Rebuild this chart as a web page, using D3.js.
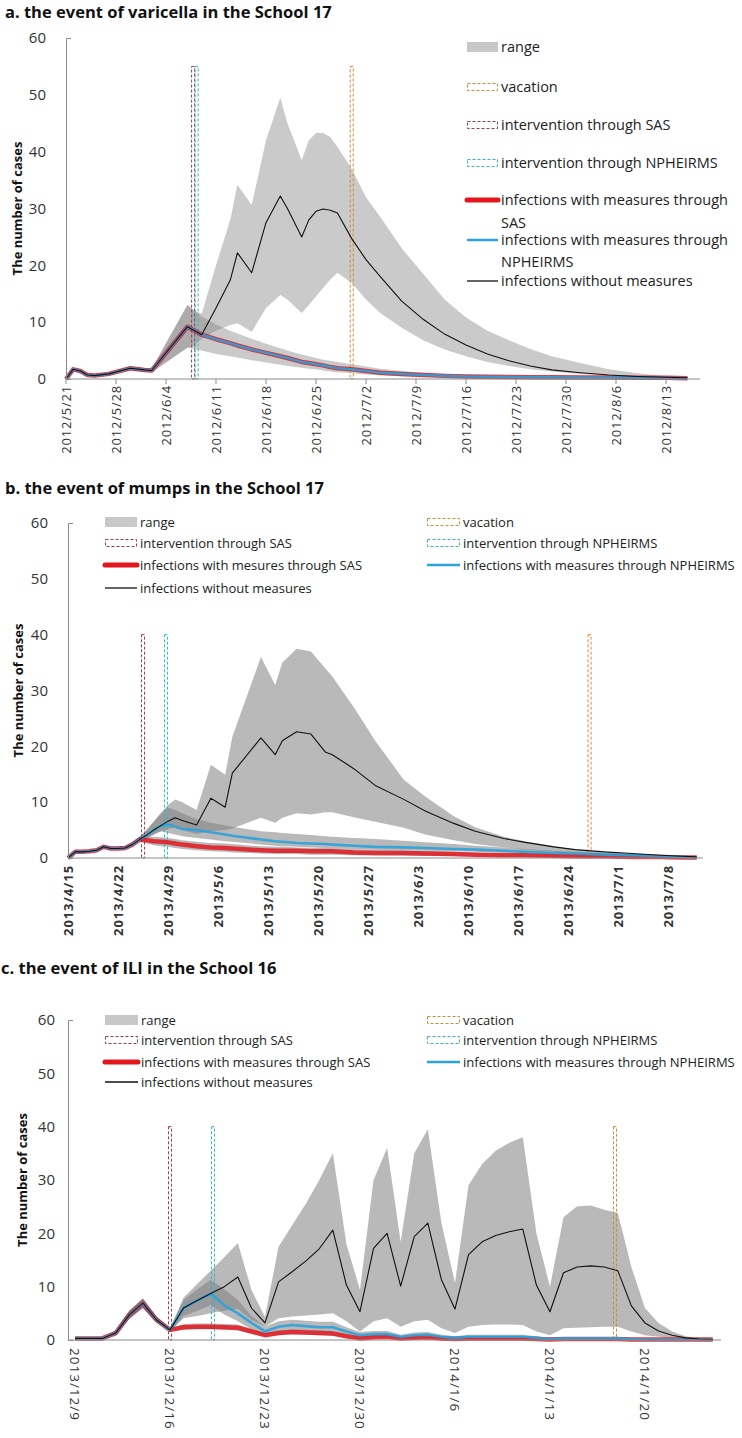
<!DOCTYPE html>
<html><head><meta charset="utf-8">
<script src="https://cdn.jsdelivr.net/npm/d3@7"></script>
<style>body{margin:0;background:#fff}svg{display:block}</style>
</head><body><svg id="c" width="742" height="1438"></svg>
<script>
// ---------------- Panel a: varicella, School 17 ----------------
const aDates = ["2012-05-21","2012-05-22","2012-05-23","2012-05-24","2012-05-25","2012-05-27","2012-05-30","2012-06-01","2012-06-02","2012-06-07","2012-06-08","2012-06-09","2012-06-11","2012-06-13","2012-06-14","2012-06-16","2012-06-18","2012-06-20","2012-06-21","2012-06-23","2012-06-24","2012-06-25","2012-06-26","2012-06-27","2012-06-28","2012-06-30","2012-07-02","2012-07-04","2012-07-07","2012-07-10","2012-07-13","2012-07-16","2012-07-19","2012-07-22","2012-07-25","2012-07-28","2012-08-01","2012-08-05","2012-08-09","2012-08-13","2012-08-16"];
const aNoMeasures = [0,1.7,1.4,0.7,0.6,0.9,1.9,1.6,1.5,9.2,8.5,7.8,12.5,17.4,22.2,18.7,27.5,32.2,30.0,25.0,28.0,29.5,29.9,29.7,29.2,24.7,21.0,18.0,13.7,10.5,7.9,6.0,4.4,3.2,2.3,1.6,1.1,0.7,0.45,0.3,0.2];
const aSAS = [0,1.7,1.4,0.7,0.6,0.9,1.9,1.6,1.5,9.2,8.5,7.8,7.0,6.3,5.9,5.2,4.6,4.0,3.7,3.0,2.8,2.6,2.4,2.1,1.9,1.7,1.4,1.1,0.9,0.7,0.55,0.45,0.4,0.35,0.3,0.3,0.25,0.25,0.2,0.2,0.15];
const aNPHE = [0,1.7,1.4,0.7,0.6,0.9,1.9,1.6,1.5,9.2,8.5,7.8,7.0,6.3,5.9,5.2,4.6,4.0,3.7,3.0,2.8,2.6,2.4,2.1,1.9,1.7,1.4,1.1,0.9,0.7,0.55,0.45,0.4,0.35,0.3,0.3,0.25,0.25,0.2,0.2,0.15];
const aNoLo = [0,1.5,1.2,0.5,0.4,0.7,1.6,1.3,1.2,5.5,6.0,7.0,8.5,9.5,9.8,8.3,12.5,14.8,14.0,11.6,13.0,14.5,16.0,17.5,18.7,16.9,14.0,11.6,9.0,6.8,5.2,4.0,3.0,2.3,1.7,1.3,0.9,0.6,0.4,0.25,0.1];
const aNoHi = [0,1.9,1.6,0.9,0.8,1.1,2.2,1.9,1.8,13.0,12.0,11.5,20.0,28.0,34.2,30.6,42.0,49.5,45.0,38.5,42.0,43.3,43.3,42.6,40.8,37.0,32.0,28.5,23.0,18.5,14.0,10.8,8.5,6.8,5.3,4.0,2.8,1.7,1.0,0.5,0.3];
const aMeasLo = [0,1.5,1.2,0.5,0.4,0.7,1.6,1.3,1.2,5.5,5.3,5.0,4.4,4.0,3.8,3.3,2.9,2.5,2.3,2.0,1.8,1.7,1.5,1.3,1.2,1.0,0.8,0.65,0.5,0.4,0.3,0.25,0.2,0.15,0.1,0.1,0.1,0.05,0.05,0,0];
const aMeasHi = [0,1.9,1.6,0.9,0.8,1.1,2.2,1.9,1.8,13.0,12.0,11.0,9.6,8.5,8.0,7.1,6.2,5.4,5.0,4.3,4.0,3.7,3.4,3.2,3.0,2.6,2.2,1.8,1.4,1.1,0.9,0.7,0.6,0.5,0.45,0.4,0.35,0.3,0.3,0.25,0.2];
const aTickDates = ["2012-05-21","2012-05-28","2012-06-04","2012-06-11","2012-06-18","2012-06-25","2012-07-02","2012-07-09","2012-07-16","2012-07-23","2012-07-30","2012-08-06","2012-08-13"];
const aTickLabels = ["2012/5/21","2012/5/28","2012/6/4","2012/6/11","2012/6/18","2012/6/25","2012/7/2","2012/7/9","2012/7/16","2012/7/23","2012/7/30","2012/8/6","2012/8/13"];
const aMarkerKeys = ["SAS","NPHEIRMS","vacation"];
const aMarkerDates = ["2012-06-07T19:00","2012-06-08T07:00","2012-06-30T00:00"];
const aMarkerTops = [55,55,55];

// ---------------- Panel b: mumps, School 17 ----------------
const bDates = ["2013-04-15","2013-04-16","2013-04-17","2013-04-18","2013-04-19","2013-04-20","2013-04-21","2013-04-22","2013-04-23","2013-04-24","2013-04-25","2013-04-26","2013-04-27","2013-04-28","2013-04-29","2013-04-30","2013-05-01","2013-05-03","2013-05-05","2013-05-07","2013-05-08","2013-05-12","2013-05-14","2013-05-15","2013-05-17","2013-05-19","2013-05-21","2013-05-22","2013-05-25","2013-05-28","2013-06-01","2013-06-04","2013-06-08","2013-06-11","2013-06-15","2013-06-18","2013-06-22","2013-06-25","2013-06-29","2013-07-03","2013-07-07","2013-07-10","2013-07-12"];
const bNoMeasures = [0,1.1,1.1,1.2,1.4,2.0,1.7,1.7,1.8,2.4,3.3,4.1,5.0,5.8,6.6,7.2,6.7,5.9,10.7,9.1,15.2,21.5,18.5,21.0,22.6,22.2,19.0,18.5,16.0,13.0,10.5,8.4,6.2,4.8,3.5,2.8,2.0,1.5,1.1,0.8,0.5,0.3,0.2];
const bSAS = [0,1.1,1.1,1.2,1.4,2.0,1.7,1.7,1.8,2.4,3.3,3.2,3.0,2.9,2.8,2.6,2.4,2.1,1.9,1.8,1.7,1.4,1.3,1.3,1.3,1.2,1.2,1.2,1.0,0.9,0.9,0.8,0.7,0.6,0.5,0.5,0.4,0.3,0.3,0.2,0.2,0.1,0.1];
const bNPHE = [0,1.1,1.1,1.2,1.4,2.0,1.7,1.7,1.8,2.4,3.3,4.1,5.0,5.8,6.0,5.6,5.2,5.0,4.6,4.2,4.0,3.3,3.0,2.9,2.7,2.6,2.5,2.4,2.2,2.0,1.9,1.8,1.6,1.5,1.3,1.1,0.9,0.8,0.6,0.5,0.3,0.2,0.1];
const bNoLo = [0,0.9,0.9,1.0,1.2,1.8,1.5,1.5,1.6,2.1,3.0,3.5,4.2,4.8,5.2,5.5,5.0,4.3,4.8,5.0,5.3,7.2,6.3,7.2,8.0,7.8,8.2,8.2,7.3,6.5,5.4,4.2,3.2,2.5,1.9,1.5,1.1,0.8,0.6,0.4,0.3,0.2,0.1];
const bNoHi = [0,1.3,1.3,1.4,1.6,2.3,2.0,2.0,2.1,2.8,3.8,5.0,6.5,8.0,9.5,10.5,10.0,8.6,16.7,14.9,21.7,36.0,31.0,35.0,37.5,37.0,34.0,32.5,27.0,21.0,14.0,11.0,7.5,5.5,3.8,3.0,2.1,1.5,1.0,0.7,0.5,0.3,0.2];
const bSASLo = [0,0.9,0.9,1.0,1.2,1.8,1.5,1.5,1.6,2.1,3.0,2.6,2.3,2.1,2.0,1.8,1.6,1.4,1.2,1.1,1.0,0.8,0.7,0.7,0.7,0.6,0.6,0.6,0.5,0.45,0.4,0.35,0.3,0.25,0.2,0.2,0.15,0.1,0.1,0.05,0.05,0,0];
const bSASHi = [0,1.3,1.3,1.4,1.6,2.3,2.0,2.0,2.1,2.8,3.8,3.9,3.8,3.7,3.6,3.4,3.2,2.9,2.7,2.6,2.5,2.1,2.0,2.0,1.9,1.8,1.8,1.8,1.6,1.5,1.4,1.3,1.1,1.0,0.8,0.8,0.7,0.6,0.5,0.4,0.3,0.2,0.2];
const bNPHELo = [0,0.9,0.9,1.0,1.2,1.8,1.5,1.5,1.6,2.1,3.0,3.5,4.2,4.8,4.5,4.2,3.9,3.6,3.3,3.0,2.9,2.4,2.2,2.1,2.0,1.9,1.8,1.8,1.6,1.5,1.4,1.3,1.2,1.1,0.9,0.8,0.6,0.5,0.4,0.3,0.2,0.1,0.1];
const bNPHEHi = [0,1.3,1.3,1.4,1.6,2.3,2.0,2.0,2.1,2.8,3.8,5.0,6.5,8.0,9.0,8.6,8.0,7.0,6.3,5.8,5.6,4.8,4.6,4.5,4.3,4.1,3.9,3.8,3.6,3.4,3.1,2.8,2.5,2.2,1.9,1.6,1.3,1.1,0.9,0.7,0.5,0.3,0.2];
const bTickDates = ["2013-04-15","2013-04-22","2013-04-29","2013-05-06","2013-05-13","2013-05-20","2013-05-27","2013-06-03","2013-06-10","2013-06-17","2013-06-24","2013-07-01","2013-07-08"];
const bTickLabels = ["2013/4/15","2013/4/22","2013/4/29","2013/5/6","2013/5/13","2013/5/20","2013/5/27","2013/6/3","2013/6/10","2013/6/17","2013/6/24","2013/7/1","2013/7/8"];
const bMarkerKeys = ["SAS","NPHEIRMS","vacation"];
const bMarkerDates = ["2013-04-25T12:00","2013-04-28T17:00","2013-06-27T00:00"];
const bMarkerTops = [40,40,40];

// ---------------- Panel c: ILI, School 16 ----------------
const cDates = ["2013-12-09","2013-12-10","2013-12-11","2013-12-12","2013-12-13","2013-12-14","2013-12-15","2013-12-16","2013-12-17","2013-12-18","2013-12-19","2013-12-20","2013-12-21","2013-12-22","2013-12-23","2013-12-24","2013-12-25","2013-12-26","2013-12-27","2013-12-28","2013-12-29","2013-12-30","2013-12-31","2014-01-01","2014-01-02","2014-01-03","2014-01-04","2014-01-05","2014-01-06","2014-01-07","2014-01-08","2014-01-09","2014-01-10","2014-01-11","2014-01-12","2014-01-13","2014-01-14","2014-01-15","2014-01-16","2014-01-17","2014-01-18","2014-01-19","2014-01-20","2014-01-21","2014-01-22","2014-01-23","2014-01-24","2014-01-25"];
const cNoMeasures = [0.3,0.3,0.3,1.3,4.7,6.9,3.8,1.9,6.0,7.4,8.7,10.0,11.8,6.0,3.2,10.9,12.8,14.8,17.1,20.6,10.3,5.3,17.2,20.0,10.1,19.4,21.9,11.3,5.8,16.0,18.4,19.6,20.3,20.8,10.3,5.3,12.6,13.7,13.9,13.7,13.0,6.4,3.2,1.7,0.9,0.4,0.2,0.1];
const cSAS = [0.3,0.3,0.3,1.3,4.7,6.9,3.8,1.9,2.4,2.5,2.5,2.4,2.3,1.6,0.9,1.3,1.5,1.4,1.3,1.2,0.7,0.3,0.5,0.6,0.3,0.4,0.5,0.3,0.2,0.3,0.3,0.3,0.3,0.3,0.2,0.1,0.2,0.2,0.2,0.2,0.2,0.1,0.1,0.1,0.1,0.1,0.1,0.1];
const cNPHE = [0.3,0.3,0.3,1.3,4.7,6.9,3.8,1.9,6.0,7.4,8.7,6.5,5.0,3.2,1.6,2.5,2.8,2.6,2.4,2.4,1.6,0.9,1.1,1.1,0.6,0.9,1.0,0.6,0.4,0.6,0.6,0.6,0.6,0.6,0.4,0.2,0.3,0.3,0.3,0.3,0.3,0.2,0.1,0.1,0.1,0.1,0.1,0.1];
const cNoLo = [0.2,0.2,0.2,1.0,4.0,6.0,3.3,1.6,4.1,4.5,5.0,5.5,5.8,3.8,2.5,4.1,4.4,4.6,4.8,5.0,3.5,1.6,3.5,4.1,2.5,3.5,3.8,2.2,1.3,2.5,2.8,2.9,2.9,2.8,1.6,0.9,2.2,2.3,2.4,2.5,2.5,1.6,0.9,0.6,0.3,0.1,0,0];
const cNoHi = [0.4,0.4,0.4,1.8,5.5,7.8,4.4,2.2,7.9,10.5,13.0,15.5,18.2,9.4,4.3,17.5,21.5,25.5,30.0,35.0,18.0,9.4,30.0,36.0,18.4,35.0,39.5,22.0,10.7,29.0,33.0,35.5,37.0,38.0,20.0,10.0,23.0,25.1,25.2,24.4,23.8,13.7,6.0,3.2,1.6,0.7,0.3,0.1];
const cSASLo = [0.2,0.2,0.2,1.0,4.0,6.0,3.3,1.6,1.9,2.0,2.0,1.9,1.8,1.2,0.6,0.9,1.1,1.0,0.9,0.8,0.4,0.1,0.3,0.4,0.1,0.2,0.3,0.1,0.1,0.1,0.1,0.1,0.1,0.1,0.1,0,0.1,0.1,0.1,0.1,0.1,0,0,0,0,0,0,0];
const cSASHi = [0.4,0.4,0.4,1.8,5.5,7.8,4.4,2.2,3.0,3.1,3.1,3.0,2.9,2.1,1.3,1.8,2.0,1.9,1.8,1.7,1.1,0.6,0.8,0.9,0.6,0.7,0.8,0.6,0.5,0.6,0.6,0.6,0.6,0.6,0.5,0.3,0.4,0.4,0.4,0.4,0.4,0.3,0.3,0.3,0.3,0.3,0.3,0.3];
const cNPHELo = [0.2,0.2,0.2,1.0,4.0,6.0,3.3,1.6,4.5,5.5,6.5,4.8,3.5,2.0,1.0,1.6,1.9,1.8,1.6,1.6,1.0,0.5,0.6,0.6,0.3,0.5,0.6,0.3,0.2,0.3,0.3,0.3,0.3,0.3,0.2,0.1,0.1,0.1,0.1,0.1,0.1,0.1,0,0,0,0,0,0];
const cNPHEHi = [0.4,0.4,0.4,1.8,5.5,7.8,4.4,2.2,7.5,9.5,11.3,9.5,7.5,4.5,2.5,3.5,3.8,3.6,3.4,3.4,2.4,1.5,1.7,1.7,1.0,1.4,1.5,1.0,0.7,1.0,1.0,1.0,1.0,1.0,0.7,0.4,0.5,0.5,0.5,0.5,0.5,0.4,0.2,0.2,0.2,0.2,0.2,0.2];
const cTickDates = ["2013-12-09","2013-12-16","2013-12-23","2013-12-30","2014-01-06","2014-01-13","2014-01-20"];
const cTickLabels = ["2013/12/9","2013/12/16","2013/12/23","2013/12/30","2014/1/6","2014/1/13","2014/1/20"];
const cMarkerKeys = ["SAS","NPHEIRMS","vacation"];
const cMarkerDates = ["2013-12-16T00:00","2013-12-19T04:00","2014-01-17T19:00"];
const cMarkerTops = [40,40,40];

const yTicks = [0,10,20,30,40,50,60];

// ---------------- drawing ----------------
const parse = s => d3.utcParse(s.length > 10 ? "%Y-%m-%dT%H:%M" : "%Y-%m-%d")(s);
const COL = {
  SAS: "#a33a4c", NPHEIRMS: "#35b3c8", vacation: "#d08b35",
  red: "#e3161d", blue: "#2aa2da", black: "#111111", band: "#808080", axis: "#8a8a8a", text: "#333333"
};
const FONT = "'Open Sans', 'DejaVu Sans', sans-serif";
const svg = d3.select("#c");

function panel(o) {
  const g = svg.append("g");
  const dates = o.dates.map(parse);
  const x = d3.scaleUtc().domain([dates[0], parse(o.endDate)]).range([o.x0, o.x1]);
  const y = d3.scaleLinear().domain([0, 60]).range([o.yBottom, o.yTop]);

  // range bands
  o.bands.forEach(b => {
    const area = d3.area().x((d, i) => x(dates[i])).y0((d, i) => y(b.lo[i])).y1((d, i) => y(b.hi[i]));
    g.append("path").datum(b.lo).attr("d", area)
      .attr("fill", COL.band).attr("fill-opacity", o.bandOpacity);
  });

  // vertical dashed markers (thin bars with dashed outline)
  o.markerKeys.forEach((k, i) => {
    const xm = x(parse(o.markerDates[i]));
    g.append("rect").attr("x", xm - 1.5).attr("width", 3)
      .attr("y", y(o.markerTops[i])).attr("height", y(0) - y(o.markerTops[i]))
      .attr("fill", "none").attr("stroke", COL[k]).attr("stroke-width", 1)
      .attr("stroke-dasharray", "3,2");
  });

  // lines
  const line = vals => d3.line().x((d, i) => x(dates[i])).y(d => y(d))(vals);
  g.append("path").attr("d", line(o.sas)).attr("fill", "none")
    .attr("stroke", COL.red).attr("stroke-width", 4.5).attr("stroke-opacity", 0.85)
    .attr("stroke-linejoin", "round");
  g.append("path").attr("d", line(o.nphe)).attr("fill", "none")
    .attr("stroke", COL.blue).attr("stroke-width", 2.6).attr("stroke-opacity", 0.9)
    .attr("stroke-linejoin", "round");
  g.append("path").attr("d", line(o.none)).attr("fill", "none")
    .attr("stroke", COL.black).attr("stroke-width", 1.1).attr("stroke-linejoin", "round");

  // y axis
  const yAxis = d3.axisLeft(y).tickValues(yTicks).tickSizeInner(0).tickSizeOuter(-5).tickPadding(o.yPad);
  const ya = g.append("g").attr("transform", `translate(${o.axisX},0)`).call(yAxis);
  ya.select(".domain").attr("stroke", COL.axis);
  ya.selectAll("text").attr("font-family", FONT).attr("font-size", 15).attr("fill", COL.text);

  // x axis baseline
  g.append("line").attr("x1", o.axisX).attr("x2", o.axisEnd).attr("y1", y(0)).attr("y2", y(0))
    .attr("stroke", COL.axis);
  o.tickDates.forEach((t, i) => {
    const xt = x(parse(t));
    if (o.tickMarks) {
      g.append("line").attr("x1", xt).attr("x2", xt).attr("y1", y(0)).attr("y2", y(0) + 5)
        .attr("stroke", COL.axis);
    }
    const lab = g.append("text").text(o.tickLabels[i])
      .attr("font-family", FONT).attr("font-size", o.tickFont).attr("fill", COL.text)
      .attr("font-weight", o.tickBold ? "bold" : "normal")
      .attr("letter-spacing", o.tickSpacing || 0)
      .attr("dy", "0.35em");
    if (o.tickDown) {
      lab.attr("transform", `translate(${xt},${y(0) + o.tickGap}) rotate(90)`).attr("text-anchor", "start");
    } else {
      lab.attr("transform", `translate(${xt},${y(0) + o.tickGap}) rotate(-90)`).attr("text-anchor", "end");
    }
  });

  // y title
  g.append("text").text("The number of cases")
    .attr("transform", `translate(${o.yTitleX},${(y(0) + y(60)) / 2}) rotate(-90)`)
    .attr("text-anchor", "middle").attr("dy", "0.35em")
    .attr("font-family", FONT).attr("font-weight", "bold").attr("font-size", 13).attr("fill", "#111");

  // panel title
  g.append("text").text(o.title).attr("x", o.titleX).attr("y", o.titleY)
    .attr("font-family", FONT).attr("font-weight", "bold")
    .attr("font-size", 16.5).attr("fill", "#111");

  // legend
  o.legend.forEach(it => {
    const lg = g.append("g");
    const x0 = it.x, x1 = it.x + it.w, yc = it.y, lh = it.lh || 20;
    if (it.type === "band") {
      lg.append("rect").attr("x", x0).attr("y", yc - 5).attr("width", it.w).attr("height", 10)
        .attr("fill", "#c8c8c8");
    } else if (it.type === "dash") {
      lg.append("rect").attr("x", x0 + 0.5).attr("y", yc - 3.5).attr("width", it.w - 1).attr("height", 7)
        .attr("fill", "none").attr("stroke", COL[it.key]).attr("stroke-width", 1).attr("stroke-dasharray", "3,2");
    } else {
      lg.append("line").attr("x1", x0).attr("x2", x1).attr("y1", yc).attr("y2", yc)
        .attr("stroke", COL[it.key]).attr("stroke-width", it.sw).attr("stroke-linecap", it.key === "red" ? "round" : "butt");
    }
    it.text.forEach((t, j) => {
      lg.append("text").text(t).attr("x", x1 + 3).attr("y", yc + j * lh).attr("dy", "0.35em")
        .attr("font-family", FONT).attr("font-size", o.legendFont).attr("fill", "#222");
    });
  });
}

panel({
  title: "a. the event of varicella in the School 17", titleX: 5, titleY: 18,
  dates: aDates, endDate: "2012-08-20", x0: 66, x1: 716, yBottom: 379, yTop: 38,
  axisX: 66, axisEnd: 700, yPad: 20, yTitleX: 17,
  bands: [{lo: aNoLo, hi: aNoHi}, {lo: aMeasLo, hi: aMeasHi}], bandOpacity: 0.42,
  sas: aSAS, nphe: aNPHE, none: aNoMeasures,
  markerKeys: aMarkerKeys, markerDates: aMarkerDates, markerTops: aMarkerTops,
  tickDates: aTickDates, tickLabels: aTickLabels, tickFont: 13, tickBold: false, tickGap: 6, tickMarks: true,
  tickSpacing: 0.8,
  legendFont: 14.5,
  legend: [
    {type: "band", x: 467, w: 31, y: 47, text: ["range"]},
    {type: "dash", key: "vacation", x: 467, w: 31, y: 87, text: ["vacation"]},
    {type: "dash", key: "SAS", x: 467, w: 31, y: 125, text: ["intervention through SAS"]},
    {type: "dash", key: "NPHEIRMS", x: 467, w: 31, y: 163, text: ["intervention through NPHEIRMS"]},
    {type: "line", key: "red", sw: 5, x: 467, w: 31, y: 200, lh: 23, text: ["infections with measures through", "SAS"]},
    {type: "line", key: "blue", sw: 2.5, x: 467, w: 31, y: 240, lh: 22, text: ["infections with measures through", "NPHEIRMS"]},
    {type: "line", key: "black", sw: 1.3, x: 467, w: 31, y: 281, text: ["infections without measures"]}
  ]
});

panel({
  title: "b. the event of mumps in the School 17", titleX: 5, titleY: 494,
  dates: bDates, endDate: "2013-07-14", x0: 68, x1: 711, yBottom: 858, yTop: 523,
  axisX: 68, axisEnd: 703, yPad: 20, yTitleX: 18,
  bands: [{lo: bNoLo, hi: bNoHi}, {lo: bSASLo, hi: bSASHi}, {lo: bNPHELo, hi: bNPHEHi}], bandOpacity: 0.55,
  sas: bSAS, nphe: bNPHE, none: bNoMeasures,
  markerKeys: bMarkerKeys, markerDates: bMarkerDates, markerTops: bMarkerTops,
  tickDates: bTickDates, tickLabels: bTickLabels, tickFont: 13, tickBold: true, tickGap: 7, tickMarks: false,
  tickSpacing: 0.9,
  legendFont: 13,
  legend: [
    {type: "band", x: 105, w: 32, y: 522, text: ["range"]},
    {type: "dash", key: "SAS", x: 105, w: 32, y: 543, text: ["intervention through SAS"]},
    {type: "line", key: "red", sw: 5, x: 105, w: 32, y: 565, text: ["infections with mesures through SAS"]},
    {type: "line", key: "black", sw: 1.3, x: 105, w: 32, y: 588, text: ["infections without measures"]},
    {type: "dash", key: "vacation", x: 427, w: 33, y: 522, text: ["vacation"]},
    {type: "dash", key: "NPHEIRMS", x: 427, w: 33, y: 543, text: ["intervention through NPHEIRMS"]},
    {type: "line", key: "blue", sw: 2.5, x: 427, w: 33, y: 565, text: ["infections with measures through NPHEIRMS"]}
  ]
});

panel({
  title: "c. the event of ILI in the School 16", titleX: 1, titleY: 974,
  dates: cDates, endDate: "2014-01-25", x0: 75, x1: 712.8, yBottom: 1340, yTop: 1020,
  axisX: 68, axisEnd: 721, yPad: 13, yTitleX: 22,
  bands: [{lo: cNoLo, hi: cNoHi}, {lo: cSASLo, hi: cSASHi}, {lo: cNPHELo, hi: cNPHEHi}], bandOpacity: 0.55,
  sas: cSAS, nphe: cNPHE, none: cNoMeasures,
  markerKeys: cMarkerKeys, markerDates: cMarkerDates, markerTops: cMarkerTops,
  tickDates: cTickDates, tickLabels: cTickLabels, tickFont: 13.5, tickBold: false, tickGap: 8, tickMarks: false,
  tickDown: true, tickSpacing: 1,
  legendFont: 13,
  legend: [
    {type: "band", x: 105, w: 33, y: 1020, text: ["range"]},
    {type: "dash", key: "SAS", x: 105, w: 33, y: 1040, text: ["intervention through SAS"]},
    {type: "line", key: "red", sw: 5, x: 105, w: 33, y: 1062, text: ["infections with measures through SAS"]},
    {type: "line", key: "black", sw: 1.3, x: 105, w: 33, y: 1082, text: ["infections without measures"]},
    {type: "dash", key: "vacation", x: 427, w: 33, y: 1020, text: ["vacation"]},
    {type: "dash", key: "NPHEIRMS", x: 427, w: 33, y: 1040, text: ["intervention through NPHEIRMS"]},
    {type: "line", key: "blue", sw: 2.5, x: 427, w: 33, y: 1062, text: ["infections with measures through NPHEIRMS"]}
  ]
});
</script></body></html>
